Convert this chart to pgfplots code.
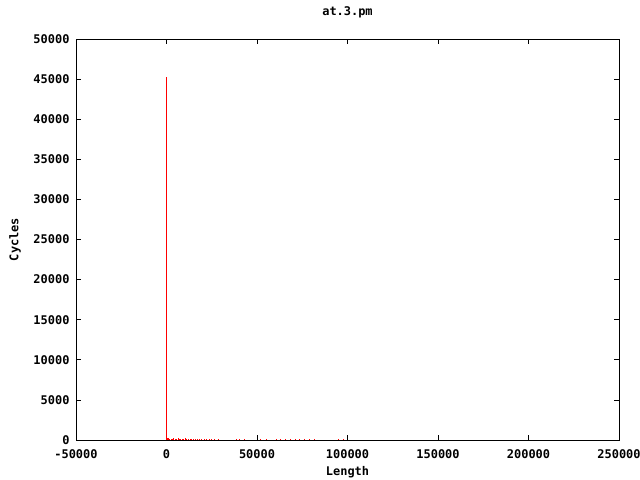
\documentclass[border=0pt]{standalone}
\usepackage{pgfplots}
\pgfplotsset{compat=1.18}
\usepackage{fontspec}
\setmainfont{DejaVu Sans Mono}
\begin{document}
\begin{tikzpicture}
\useasboundingbox (0,0) rectangle (640bp,480bp);
\begin{axis}[
  at={(76bp,40bp)}, anchor=south west,
  scale only axis, width=543bp, height=401bp,
  xmin=-50000, xmax=250000, ymin=0, ymax=50000,
  xtick={-50000,0,50000,100000,150000,200000,250000},
  ytick={0,5000,10000,15000,20000,25000,30000,35000,40000,45000,50000},
  scaled ticks=false,
  xticklabel style={/pgf/number format/.cd,fixed,1000 sep={}, /tikz/yshift=-6bp},
  yticklabel style={/pgf/number format/.cd,fixed,1000 sep={}, /tikz/xshift=-3bp},
  /pgf/number format/assume math mode=true,
  tick align=inside, major tick length=5bp,
  tick style={black, line width=0.8bp},
  axis line style={line width=0.8bp},
  ticklabel style={font=\fontsize{12}{14}\selectfont\bfseries},
  label style={font=\fontsize{12}{14}\selectfont\bfseries},
  title style={font=\fontsize{12}{14}\selectfont\bfseries, at={(axis description cs:0.5,1.0524)}, anchor=center},
  title={at.3.pm},
  xlabel={Length}, ylabel={Cycles},
  xlabel style={at={(axis description cs:0.5,-0.0798)}, anchor=center},
  ylabel style={at={(axis description cs:-0.1123,0.5)}, anchor=center},
  clip=true,
]
\addplot[ycomb, red, line width=1bp, mark=none] coordinates {
(5,45300)
(200,300) (600,250) (1200,200) (1800,150) (2500,180) (3200,120) (4000,200)
(4800,150) (5600,130) (6400,220) (7200,160) (8000,140) (8800,180) (9600,120)
(10500,200) (11300,150) (12100,130) (13000,170) (14000,120) (15000,150)
(16000,110) (17200,140) (18300,100) (19500,160) (20800,120) (22000,100)
(23500,130) (25000,90) (26500,110) (28500,80)
(38500,80) (40500,100) (43000,70)
(52000,90) (55000,70)
(60500,100) (63000,80) (66000,90) (68500,110) (71000,80) (73500,100)
(76000,70) (79000,90) (81500,70)
(95000,80) (98000,70)
};
\end{axis}
\end{tikzpicture}
\end{document}
